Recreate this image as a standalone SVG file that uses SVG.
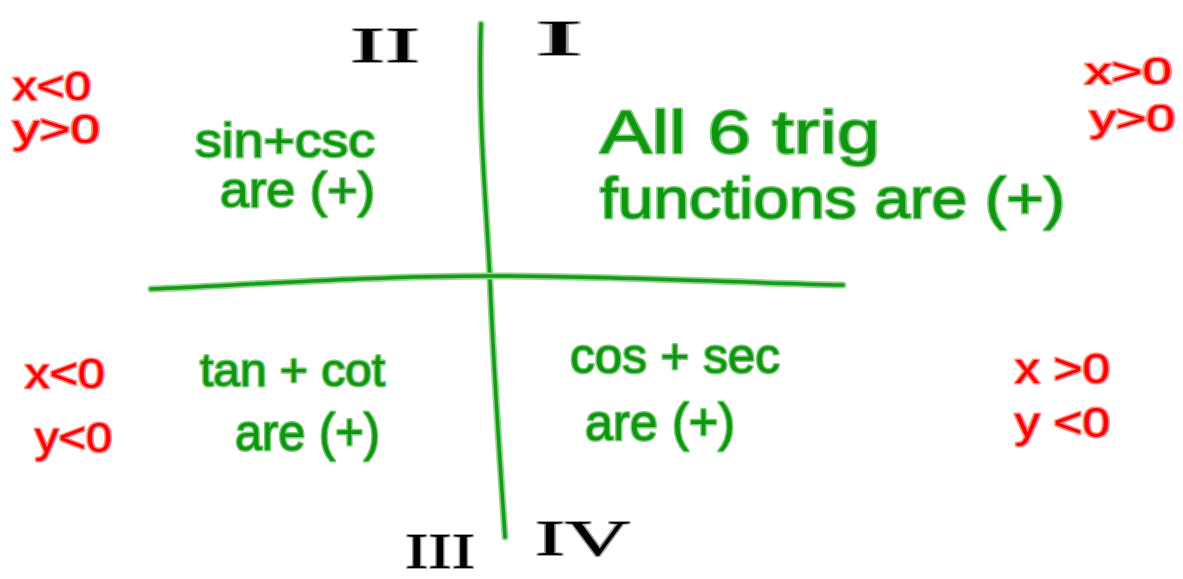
<svg xmlns="http://www.w3.org/2000/svg" width="1183" height="579" viewBox="0 0 1183 579">
<style>
text{font-family:"Liberation Sans",Arial,sans-serif;paint-order:stroke;stroke-linejoin:round;}
.g{fill:#0e960e;stroke:#7acc7a;stroke-width:3;}
.r{fill:#ff0000;stroke:#ff8a8a;stroke-width:3;}
.k{font-family:"Liberation Serif","Times New Roman",serif;fill:#000;stroke:#a0a0a0;stroke-width:2;}
.axh{fill:none;stroke:#8fd68f;stroke-width:7;stroke-linecap:round;}
.ax{fill:none;stroke:#179a17;stroke-width:3.5;stroke-linecap:round;}
</style>
<rect width="1183" height="579" fill="#fff"/>
<g id="connectors">
  <path class="axh" d="M481,24 C478,120 486,200 490,280 C494,380 500,460 505,537"/>
  <path class="ax" d="M481,24 C478,120 486,200 490,280 C494,380 500,460 505,537"/>
  <path class="axh" d="M151,289 C260,284 380,276 490,276 C600,276 720,282 843,285"/>
  <path class="ax" d="M151,289 C260,284 380,276 490,276 C600,276 720,282 843,285"/>
</g>
<g id="numeral-II"><text class="k" x="350" y="62" font-size="50" textLength="70" lengthAdjust="spacingAndGlyphs">II</text></g>
<g id="numeral-I"><text class="k" x="535" y="55" font-size="50" textLength="48" lengthAdjust="spacingAndGlyphs">I</text></g>
<g id="numeral-III"><text class="k" x="405" y="568" font-size="50" textLength="70" lengthAdjust="spacingAndGlyphs">III</text></g>
<g id="numeral-IV"><text class="k" x="535" y="555" font-size="50" textLength="95" lengthAdjust="spacingAndGlyphs">IV</text></g>
<g id="q2-signs">
  <text class="r" x="13" y="100" font-size="40" textLength="78" lengthAdjust="spacingAndGlyphs">x&lt;0</text>
  <text class="r" x="13" y="143" font-size="40" textLength="87" lengthAdjust="spacingAndGlyphs">y&gt;0</text>
</g>
<g id="q1-signs">
  <text class="r" x="1085" y="84" font-size="36" textLength="87" lengthAdjust="spacingAndGlyphs">x&gt;0</text>
  <text class="r" x="1090" y="131" font-size="36" textLength="85" lengthAdjust="spacingAndGlyphs">y&gt;0</text>
</g>
<g id="q3-signs">
  <text class="r" x="25" y="388" font-size="42" textLength="80" lengthAdjust="spacingAndGlyphs">x&lt;0</text>
  <text class="r" x="35" y="452" font-size="42" textLength="77" lengthAdjust="spacingAndGlyphs">y&lt;0</text>
</g>
<g id="q4-signs">
  <text class="r" x="1015" y="383" font-size="42" textLength="95" lengthAdjust="spacingAndGlyphs">x &gt;0</text>
  <text class="r" x="1015" y="437" font-size="42" textLength="95" lengthAdjust="spacingAndGlyphs">y &lt;0</text>
</g>
<g id="q2-text">
  <text class="g" x="195" y="157" font-size="48" textLength="180" lengthAdjust="spacingAndGlyphs">sin+csc</text>
  <text class="g" x="220" y="207" font-size="50" textLength="155" lengthAdjust="spacingAndGlyphs">are (+)</text>
</g>
<g id="q1-text">
  <text class="g" x="600" y="153" font-size="62" textLength="280" lengthAdjust="spacingAndGlyphs">All 6 trig</text>
  <text class="g" x="600" y="218" font-size="58" textLength="465" lengthAdjust="spacingAndGlyphs">functions are (+)</text>
</g>
<g id="q3-text">
  <text class="g" x="200" y="386" font-size="46" textLength="185" lengthAdjust="spacingAndGlyphs">tan + cot</text>
  <text class="g" x="235" y="450" font-size="52" textLength="145" lengthAdjust="spacingAndGlyphs">are (+)</text>
</g>
<g id="q4-text">
  <text class="g" x="570" y="373" font-size="50" textLength="210" lengthAdjust="spacingAndGlyphs">cos + sec</text>
  <text class="g" x="585" y="440" font-size="52" textLength="150" lengthAdjust="spacingAndGlyphs">are (+)</text>
</g>
</svg>
